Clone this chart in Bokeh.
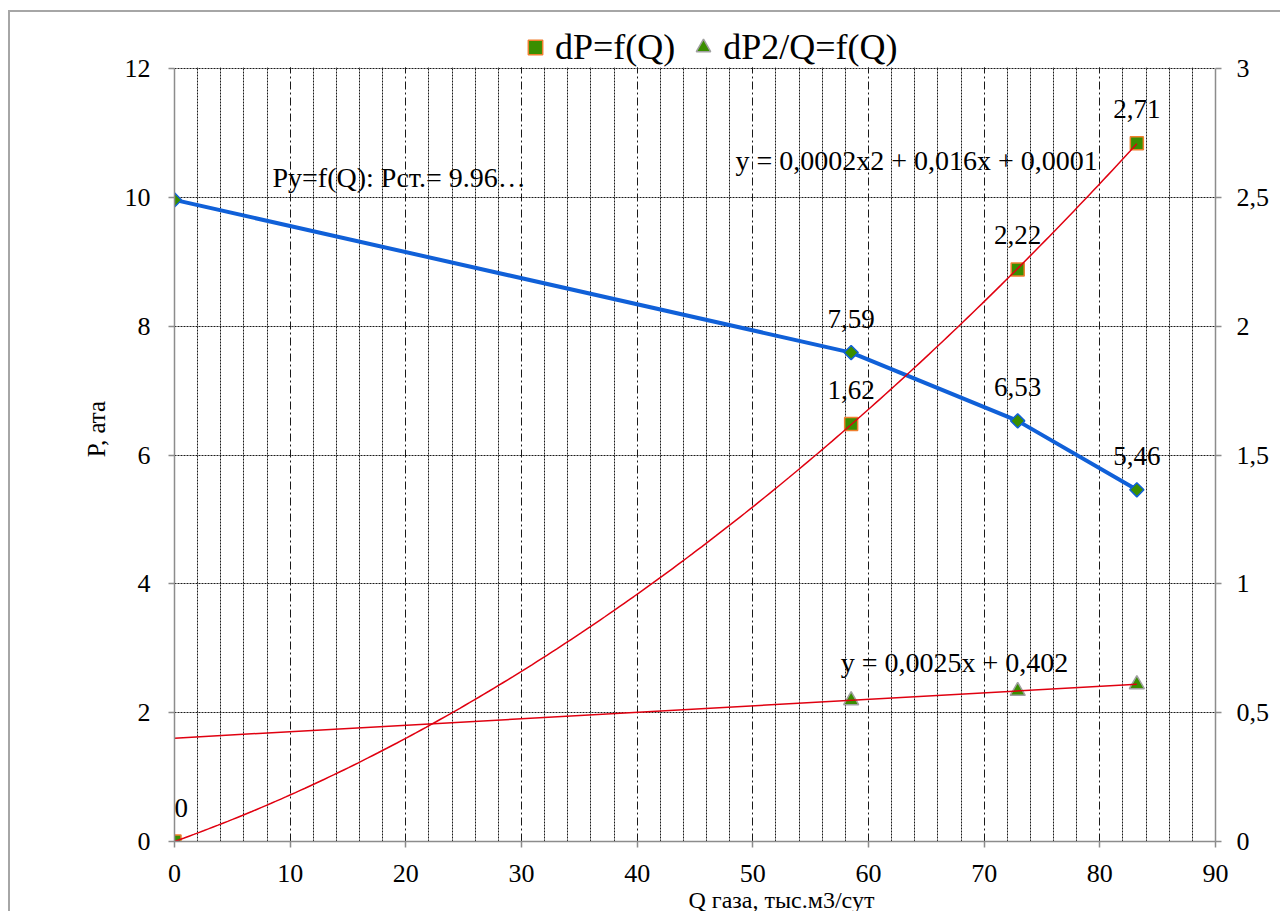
import numpy as np
from bokeh.plotting import figure
from bokeh.models import (Range1d, LinearAxis, FixedTicker, ColumnDataSource, LabelSet,
                          Label, Legend, LegendItem, CustomJSTickFormatter, Title, BoxAnnotation)
from bokeh.core.properties import value
from bokeh.embed import file_html
from bokeh.resources import INLINE

# ---- data ----
q = [0.0, 58.5, 72.9, 83.2]              # Q газа, тыс.м3/сут
p_u = [9.96, 7.59, 6.53, 5.46]           # Py, ата (left axis)
dp = [0.0, 1.62, 2.22, 2.71]             # dP (right axis)
q_tri = [58.5, 72.9, 83.2]
dp2q = [0.548, 0.584, 0.610]             # dP2/Q (right axis)
x_ticks = [0, 10, 20, 30, 40, 50, 60, 70, 80, 90]
x_minor = [v for v in range(0, 91, 2) if v % 10 != 0]
left_ticks = [0, 2, 4, 6, 8, 10, 12]
right_ticks = [0, 0.5, 1, 1.5, 2, 2.5, 3]
series_names = ["dP=f(Q)", "dP2/Q=f(Q)"]
pct_text = "Py=f(Q): Pст.= 9.96…"
eq_poly = "y = 0,0002x2 + 0,016x + 0,0001"
eq_lin = "y = 0,0025x + 0,402"
x_title = "Q газа, тыс.м3/сут"
y_title = "P, ата"

FONT = "'Liberation Serif'"
GREEN = "#3a8e00"
BLUE = "#1060d8"
ORANGE = "#f07f2e"
RED = "#e00010"
AXIS = "#8c8c8c"
GRID = "#1a1a1a"

def comma(v):
    return f"{v:.2f}".replace(".", ",")

# plot frame: the 0..12 part is 773 px tall, the frame extends 52 px higher to hold the legend
L_MAX, R_MAX = left_ticks[-1], right_ticks[-1]
stretch = 825 / 773
p = figure(width=1272, height=901, x_range=Range1d(0, 90), y_range=Range1d(0, L_MAX * stretch),
           output_backend="svg", toolbar_location=None,
           min_border_left=164, min_border_right=67, min_border_top=4, min_border_bottom=72,
           background_fill_color="white", border_fill_color="white", outline_line_color=None)
p.styles = {"margin-left": "8px", "margin-top": "10px",
            "border-left": "2px solid #a6a6a6", "border-top": "2px solid #a6a6a6"}
p.extra_y_ranges = {"right": Range1d(0, R_MAX * stretch)}

xt = FixedTicker(ticks=x_ticks, minor_ticks=x_minor)
lt = FixedTicker(ticks=left_ticks)
rt = FixedTicker(ticks=right_ticks)
p.xaxis.ticker = xt
p.xgrid.ticker = xt
p.yaxis.ticker = lt
p.ygrid.ticker = lt
p.yaxis.bounds = (0, L_MAX)

raxis = LinearAxis(y_range_name="right", ticker=rt, bounds=(0, R_MAX),
                   formatter=CustomJSTickFormatter(code="return tick.toString().replace('.', ',')"))
p.add_layout(raxis, "right")

for ax in [p.xaxis[0], p.yaxis[0], raxis]:
    ax.axis_line_color = AXIS
    ax.axis_line_width = 1.5
    ax.major_tick_line_color = AXIS
    ax.major_tick_line_width = 1.5
    ax.major_tick_out = 6
    ax.major_tick_in = 0
    ax.minor_tick_out = 0
    ax.minor_tick_in = 0
    ax.major_label_text_font = FONT
    ax.major_label_text_font_size = "26px"
    ax.major_label_text_color = "black"

p.xaxis.major_label_standoff = 17
p.yaxis[0].major_label_standoff = 18
raxis.major_label_standoff = 15
p.yaxis[0].axis_label = y_title
p.yaxis[0].axis_label_text_font = FONT
p.yaxis[0].axis_label_text_font_size = "25px"
p.yaxis[0].axis_label_text_font_style = "normal"
p.yaxis[0].axis_label_text_color = "black"
p.yaxis[0].axis_label_standoff = 12

p.add_layout(Title(text=x_title, align="left", offset=514, standoff=0,
                   text_font=FONT, text_font_size="24px", text_font_style="normal",
                   text_color="black"), "below")

p.xgrid.grid_line_color = GRID
p.xgrid.grid_line_dash = "8 3 2 3"
p.xgrid.grid_line_width = 1
p.xgrid.minor_grid_line_color = GRID
p.xgrid.minor_grid_line_dash = "2 1"
p.xgrid.minor_grid_line_width = 1
p.ygrid.grid_line_color = GRID
p.ygrid.grid_line_dash = "2 1"
p.ygrid.grid_line_width = 1

# white mask over the grid above the top of the value range (legend area)
p.add_layout(BoxAnnotation(bottom=L_MAX + 0.02, fill_color="white", fill_alpha=1,
                           line_color=None, level="underlay"))

# ---- series ----
p.line(q, p_u, line_color=BLUE, line_width=4)
p.scatter(q, p_u, marker="square", angle=np.pi / 4, size=10,
          fill_color=GREEN, line_color=BLUE, line_width=1.5)
r_dp = p.scatter(q, dp, y_range_name="right", marker="square", size=13,
                 fill_color=GREEN, line_color=ORANGE, line_width=1.5)
r_tri = p.scatter(q_tri, dp2q, y_range_name="right", marker="triangle", size=15,
                  fill_color=GREEN, line_color="#a0a0a0", line_width=1.5)

# trendlines (least-squares fits of the series, like the spreadsheet does)
c2 = np.polyfit(q, dp, 2)
xs = np.linspace(0, max(q), 200)
p.line(xs, np.polyval(c2, xs), y_range_name="right", line_color=RED, line_width=1.5)
c1 = np.polyfit(q_tri, dp2q, 1)
xs1 = np.array([0, max(q_tri)])
p.line(xs1, np.polyval(c1, xs1), y_range_name="right", line_color=RED, line_width=1.5)

# ---- labels ----
src_p = ColumnDataSource(dict(x=q[1:], y=p_u[1:], t=[comma(v) for v in p_u[1:]]))
p.add_layout(LabelSet(x="x", y="y", text="t", source=src_p, y_offset=34,
                      text_align="center", text_baseline="middle",
                      text_font=value(FONT), text_font_size="27px", text_color="black"))
dp_txt = ["0" if v == 0 else comma(v) for v in dp]
dp_align = ["left" if v == 0 else "center" for v in q]
src_dp = ColumnDataSource(dict(x=q, y=dp, t=dp_txt, a=dp_align))
p.add_layout(LabelSet(x="x", y="y", text="t", source=src_dp, y_range_name="right", y_offset=34,
                      text_align="a", text_baseline="middle",
                      text_font=value(FONT), text_font_size="27px", text_color="black"))
p.add_layout(Label(x=q[0], y=p_u[0], x_offset=98, y_offset=22, text=pct_text,
                   text_align="left", text_baseline="middle",
                   text_font=FONT, text_font_size="28px", text_color="black"))
p.add_layout(Label(x=48.5, y=10.57, text=eq_poly, text_align="left", text_baseline="middle",
                   text_font=FONT, text_font_size="28px", text_color="black"))
p.add_layout(Label(x=57.6, y=2.78, text=eq_lin, text_align="left", text_baseline="middle",
                   text_font=FONT, text_font_size="28px", text_color="black"))

# ---- legend ----
legend = Legend(items=[LegendItem(label=value(series_names[0]), renderers=[r_dp]),
                       LegendItem(label=value(series_names[1]), renderers=[r_tri])],
                orientation="horizontal", location=(343, 773),
                label_text_font=FONT, label_text_font_size="36px", label_text_color="black",
                glyph_width=36, glyph_height=36, spacing=10, padding=4, margin=0,
                label_standoff=2, border_line_color=None, background_fill_alpha=0)
p.add_layout(legend, "center")

open("out.html", "w").write(file_html(p, INLINE))
